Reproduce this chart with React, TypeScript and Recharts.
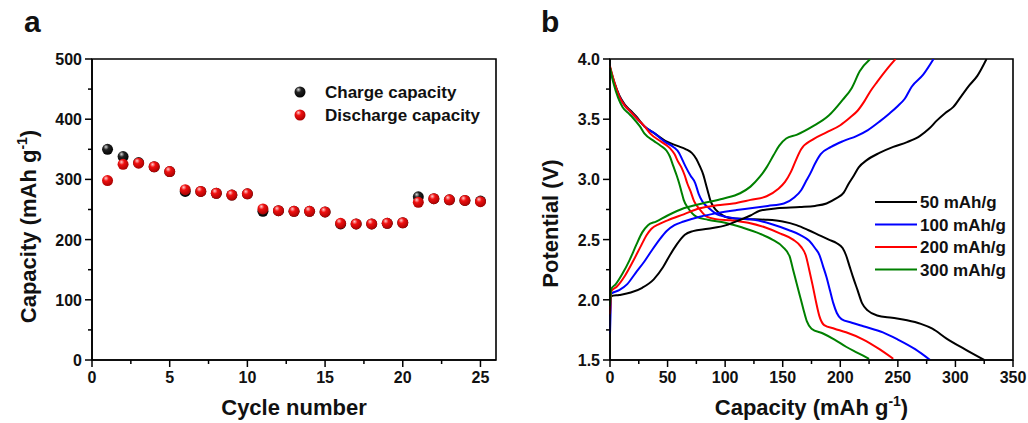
import React from 'react';
import {
  ScatterChart,
  Scatter,
  LineChart,
  Line,
  XAxis,
  YAxis,
  ReferenceArea,
  Legend,
} from 'recharts';

const FONT = '"Liberation Sans", Arial, Helvetica, sans-serif';

// ---- panel a: rate capability ----
const cycles = [1, 2, 3, 4, 5, 6, 7, 8, 9, 10, 11, 12, 13, 14, 15, 16, 17, 18, 19, 20, 21, 22, 23, 24, 25];
const chargeCapacity = [350, 338, 328, 321, 313, 280, 280, 277, 274, 276, 247, 248, 247, 247, 246, 226, 226, 226, 227, 228, 271, 268, 266, 265, 264];
const dischargeCapacity = [298, 325, 327, 321, 313, 283, 280, 277, 274, 276, 251, 248, 247, 247, 246, 227, 226, 226, 227, 228, 262, 268, 266, 265, 263];
const cycleTicks = [0, 2.5, 5, 7.5, 10, 12.5, 15, 17.5, 20, 22.5, 25];
const capTicks = [0, 50, 100, 150, 200, 250, 300, 350, 400, 450, 500];

// ---- panel b: charge / discharge profiles, [capacity, potential] ----
const rates = ['50 mAh/g', '100 mAh/g', '200 mAh/g', '300 mAh/g'];
const rateColors = ['#000000', '#0000ff', '#ff0000', '#008000'];

const charge50: [number, number][] = [
  [0, 1.99], [1, 2.03], [8, 2.04], [18, 2.06], [28, 2.1], [38, 2.17], [46, 2.27], [52, 2.37], [58, 2.46],
  [65, 2.54], [72, 2.57], [85, 2.59], [101, 2.62], [112, 2.66], [122, 2.7], [130, 2.74], [145, 2.76],
  [165, 2.77], [178, 2.78], [188, 2.8], [196, 2.84], [203, 2.89], [207, 2.96], [211, 3.02], [216, 3.1],
  [223, 3.16], [234, 3.22], [246, 3.27], [258, 3.31], [269, 3.36], [277, 3.42], [284, 3.49], [291, 3.55],
  [298, 3.6], [305, 3.69], [312, 3.78], [319, 3.86], [327, 4.0],
];
const charge100: [number, number][] = [
  [0, 1.72], [0.5, 1.9], [1, 2.05], [8, 2.08], [15, 2.13], [22, 2.22], [30, 2.32], [37, 2.42], [43, 2.5],
  [49, 2.57], [56, 2.62], [64, 2.65], [78, 2.69], [93, 2.72], [110, 2.745], [122, 2.76], [137, 2.78],
  [151, 2.8], [160, 2.85], [166, 2.91], [170, 2.98], [174, 3.05], [178, 3.13], [183, 3.21], [192, 3.27],
  [203, 3.32], [214, 3.36], [224, 3.41], [234, 3.48], [243, 3.55], [250, 3.61], [256, 3.67], [262, 3.77],
  [272, 3.87], [281, 4.0],
];
const charge200: [number, number][] = [
  [0, 1.88], [0.5, 1.98], [1, 2.07], [6, 2.11], [13, 2.2], [20, 2.32], [27, 2.45], [32, 2.54], [36, 2.59],
  [43, 2.63], [50, 2.66], [64, 2.71], [78, 2.76], [93, 2.785], [107, 2.8], [122, 2.83], [136, 2.86],
  [146, 2.92], [152, 2.98], [157, 3.06], [161, 3.15], [166, 3.25], [176, 3.33], [188, 3.39], [200, 3.45],
  [208, 3.51], [215, 3.57], [221, 3.65], [226, 3.73], [232, 3.81], [240, 3.91], [248, 4.0],
];
const charge300: [number, number][] = [
  [0, 1.95], [0.5, 2.03], [1, 2.09], [5, 2.13], [11, 2.22], [17, 2.33], [23, 2.46], [28, 2.56], [33, 2.62],
  [40, 2.65], [50, 2.7], [64, 2.76], [80, 2.8], [98, 2.84], [113, 2.885], [122, 2.94], [130, 3.02],
  [136, 3.1], [142, 3.2], [147, 3.28], [153, 3.34], [162, 3.37], [176, 3.44], [190, 3.53], [202, 3.66],
  [210, 3.76], [217, 3.9], [226, 4.0],
];
const discharge50: [number, number][] = [
  [0, 3.93], [4, 3.8], [8, 3.7], [13, 3.62], [18, 3.57], [23, 3.52], [30, 3.44], [39, 3.38], [48, 3.32],
  [58, 3.28], [66, 3.25], [71, 3.22], [75, 3.17], [78, 3.11], [81, 3.04], [83, 2.97], [85, 2.9], [87, 2.83],
  [90, 2.77], [95, 2.72], [100, 2.69], [108, 2.675], [120, 2.67], [135, 2.665], [150, 2.65], [162, 2.62],
  [172, 2.58], [181, 2.54], [190, 2.5], [197, 2.47], [202, 2.43], [205, 2.37], [208, 2.28], [211, 2.19],
  [215, 2.08], [219, 1.97], [224, 1.91], [232, 1.87], [245, 1.85], [258, 1.83], [270, 1.8], [280, 1.76],
  [292, 1.68], [308, 1.59], [325, 1.5],
];
const discharge100: [number, number][] = [
  [0, 3.92], [4, 3.79], [8, 3.69], [13, 3.61], [18, 3.56], [23, 3.51], [30, 3.44], [39, 3.38], [48, 3.31],
  [55, 3.27], [60, 3.22], [63, 3.16], [66, 3.1], [70, 3.03], [74, 2.97], [77, 2.88], [80, 2.82], [86, 2.76],
  [93, 2.71], [100, 2.69], [110, 2.675], [125, 2.665], [140, 2.63], [155, 2.58], [165, 2.54], [173, 2.49],
  [178, 2.43], [182, 2.37], [185, 2.28], [188, 2.19], [191, 2.08], [194, 1.97], [197, 1.89], [201, 1.84],
  [210, 1.81], [220, 1.78], [237, 1.73], [250, 1.67], [265, 1.59], [278, 1.5],
];
const discharge200: [number, number][] = [
  [0, 3.94], [4, 3.8], [8, 3.69], [13, 3.61], [18, 3.56], [23, 3.51], [30, 3.44], [35, 3.38], [45, 3.31],
  [52, 3.26], [56, 3.21], [59, 3.15], [62, 3.1], [65, 3.03], [67, 2.97], [70, 2.9], [73, 2.82], [78, 2.75],
  [84, 2.69], [92, 2.67], [105, 2.66], [120, 2.64], [135, 2.6], [148, 2.55], [159, 2.5], [166, 2.44],
  [170, 2.37], [173, 2.25], [176, 2.12], [179, 1.98], [182, 1.86], [186, 1.79], [195, 1.76], [205, 1.73],
  [220, 1.67], [234, 1.59], [246, 1.51],
];
const discharge300: [number, number][] = [
  [0, 3.93], [3, 3.8], [7, 3.68], [11, 3.6], [16, 3.55], [20, 3.51], [26, 3.44], [30, 3.38], [38, 3.32],
  [44, 3.28], [49, 3.24], [52, 3.19], [55, 3.11], [58, 3.03], [60, 2.97], [62, 2.9], [64, 2.83], [68, 2.76],
  [75, 2.69], [85, 2.665], [100, 2.64], [115, 2.6], [130, 2.55], [141, 2.5], [150, 2.44], [156, 2.36],
  [159, 2.25], [162, 2.14], [165, 2.03], [168, 1.92], [171, 1.82], [175, 1.76], [185, 1.72], [195, 1.67],
  [205, 1.61], [215, 1.56], [225, 1.51],
];
const chargeCurves = [charge50, charge100, charge200, charge300];
const dischargeCurves = [discharge50, discharge100, discharge200, discharge300];
const specCapTicks = [0, 25, 50, 75, 100, 125, 150, 175, 200, 225, 250, 275, 300, 325, 350];
const potentialTicks = [1.5, 1.75, 2.0, 2.25, 2.5, 2.75, 3.0, 3.25, 3.5, 3.75, 4.0];

const toPoints = (pairs: [number, number][]) => pairs.map(([cap, v]) => ({ cap, v }));

const isMajor = (value: number, step: number) =>
  Math.abs(value / step - Math.round(value / step)) < 1e-6;

const tickText = { fontFamily: FONT, fontWeight: 'bold', fontSize: 16, fill: '#111' } as const;

const bottomTick = (step: number, fmt: (v: number) => string) => (props: any) => {
  const { x, y, payload } = props;
  const major = isMajor(payload.value, step);
  return (
    <g>
      <line x1={x} x2={x} y1={y} y2={y + (major ? 7 : 4)} stroke="#000" strokeWidth={1.5} />
      {major && (
        <text x={x} y={y + 23} textAnchor="middle" {...tickText}>
          {fmt(payload.value)}
        </text>
      )}
    </g>
  );
};

const leftTick = (step: number, fmt: (v: number) => string) => (props: any) => {
  const { x, y, payload } = props;
  const major = isMajor(payload.value, step);
  return (
    <g>
      <line x1={x - (major ? 7 : 4)} x2={x} y1={y} y2={y} stroke="#000" strokeWidth={1.5} />
      {major && (
        <text x={x - 10} y={y + 6} textAnchor="end" {...tickText}>
          {fmt(payload.value)}
        </text>
      )}
    </g>
  );
};

const titleText = { fontFamily: FONT, fontWeight: 'bold', fontSize: 22, fill: '#111' } as const;
const legendText = { fontFamily: FONT, fontWeight: 'bold', fontSize: 17, fill: '#111' } as const;

const capacityTitle = (
  <>
    Capacity (mAh g
    <tspan dy={-9} fontSize={14}>-1</tspan>
    <tspan dy={9}>)</tspan>
  </>
);

const xTitle = (content: React.ReactNode) => (props: any) => {
  const vb = props.viewBox || { x: 0, y: 0, width: 0, height: 0 };
  return (
    <text x={vb.x + vb.width / 2} y={vb.y + 55} textAnchor="middle" {...titleText}>
      {content}
    </text>
  );
};

const yTitle = (content: React.ReactNode, baseX: number, shift: number) => (props: any) => {
  const vb = props.viewBox || { x: 0, y: 0, width: 0, height: 0 };
  const cx = vb.x + baseX;
  const cy = vb.y + vb.height / 2 + shift;
  return (
    <text x={cx} y={cy} transform={`rotate(-90, ${cx}, ${cy})`} textAnchor="middle" {...titleText}>
      {content}
    </text>
  );
};

const Ball = (props: any) => <circle cx={props.cx} cy={props.cy} r={5.5} fill={props.fillUrl} />;

const ballSeries = [
  { name: 'Charge capacity', values: chargeCapacity, fill: 'url(#ballBlack)' },
  { name: 'Discharge capacity', values: dischargeCapacity, fill: 'url(#ballRed)' },
];

function CycleLegend() {
  return (
    <svg width={210} height={50} style={{ display: 'block' }}>
      {ballSeries.map((s, i) => (
        <g key={s.name}>
          <circle cx={6} cy={12 + i * 23} r={5.5} fill={s.fill} />
          <text x={31} y={12 + i * 23 + 6} {...legendText}>{s.name}</text>
        </g>
      ))}
    </svg>
  );
}

function RateLegend() {
  return (
    <svg width={160} height={95} style={{ display: 'block' }}>
      {rates.map((r, i) => (
        <g key={r}>
          <line x1={0} x2={42} y1={11 + i * 22.5} y2={11 + i * 22.5} stroke={rateColors[i]} strokeWidth={2} />
          <text x={45} y={11 + i * 22.5 + 6} {...legendText}>{r}</text>
        </g>
      ))}
    </svg>
  );
}

export default function App() {
  return (
    <div style={{ position: 'absolute', left: 0, top: 0, width: 1028, height: 423, background: '#fff' }}>
      <svg width={1028} height={423} style={{ position: 'absolute', left: 0, top: 0 }}>
        <text x={24} y={32} fontFamily={FONT} fontWeight="bold" fontSize={30} fill="#111">a</text>
        <text x={541} y={32} fontFamily={FONT} fontWeight="bold" fontSize={30} fill="#111">b</text>
      </svg>

      <div style={{ position: 'absolute', left: 0, top: 0 }}>
        <ScatterChart width={520} height={423} margin={{ top: 59, right: 24, bottom: 0, left: 0 }}>
          <defs>
            <radialGradient id="ballRed" cx="0.4" cy="0.35" r="0.7" fx="0.35" fy="0.28">
              <stop offset="0%" stopColor="#ffd0d0" />
              <stop offset="35%" stopColor="#f01010" />
              <stop offset="100%" stopColor="#a00000" />
            </radialGradient>
            <radialGradient id="ballBlack" cx="0.4" cy="0.35" r="0.7" fx="0.35" fy="0.28">
              <stop offset="0%" stopColor="#d8d8d8" />
              <stop offset="35%" stopColor="#222" />
              <stop offset="100%" stopColor="#000" />
            </radialGradient>
          </defs>
          <XAxis
            type="number"
            dataKey="cycle"
            domain={[0, 26]}
            ticks={cycleTicks}
            interval={0}
            height={63}
            tickSize={0}
            tickMargin={0}
            tickLine={false}
            axisLine={{ stroke: '#000', strokeWidth: 1.6 }}
            tick={bottomTick(5, (v) => String(v))}
            label={{ content: xTitle('Cycle number') }}
          />
          <YAxis
            type="number"
            dataKey="cap"
            domain={[0, 500]}
            ticks={capTicks}
            interval={0}
            width={92}
            tickSize={0}
            tickMargin={0}
            tickLine={false}
            axisLine={{ stroke: '#000', strokeWidth: 1.6 }}
            tick={leftTick(100, (v) => String(v))}
            label={{ content: yTitle(capacityTitle, 36, 17) }}
          />
          <ReferenceArea x1={0} x2={26} y1={0} y2={500} fill="none" stroke="#000" strokeWidth={1.6} />
          {ballSeries.map((s) => (
            <Scatter
              key={s.name}
              name={s.name}
              data={cycles.map((c, i) => ({ cycle: c, cap: s.values[i] }))}
              shape={(p: any) => <Ball {...p} fillUrl={s.fill} />}
              isAnimationActive={false}
            />
          ))}
          <Legend
            verticalAlign="middle"
            align="center"
            content={() => <CycleLegend />}
            wrapperStyle={{ left: 294, top: 80, width: 210 }}
          />
        </ScatterChart>
      </div>

      <div style={{ position: 'absolute', left: 520, top: 0 }}>
        <LineChart width={508} height={423} margin={{ top: 59, right: 15, bottom: 0, left: 0 }}>
          <XAxis
            type="number"
            dataKey="cap"
            domain={[0, 350]}
            ticks={specCapTicks}
            interval={0}
            height={63}
            tickSize={0}
            tickMargin={0}
            tickLine={false}
            axisLine={{ stroke: '#000', strokeWidth: 1.6 }}
            tick={bottomTick(50, (v) => String(v))}
            label={{ content: xTitle(capacityTitle) }}
          />
          <YAxis
            type="number"
            dataKey="v"
            domain={[1.5, 4]}
            ticks={potentialTicks}
            interval={0}
            width={90}
            tickSize={0}
            tickMargin={0}
            tickLine={false}
            allowDataOverflow
            axisLine={{ stroke: '#000', strokeWidth: 1.6 }}
            tick={leftTick(0.5, (v) => v.toFixed(1))}
            label={{ content: yTitle('Potential (V)', 38, 14) }}
          />
          <ReferenceArea x1={0} x2={350} y1={1.5} y2={4} fill="none" stroke="#000" strokeWidth={1.6} />
          {rates.map((r, i) => (
            <Line
              key={`d-${r}`}
              data={toPoints(dischargeCurves[i])}
              dataKey="v"
              type="monotone"
              stroke={rateColors[i]}
              strokeWidth={2}
              dot={false}
              isAnimationActive={false}
            />
          ))}
          {rates.map((r, i) => (
            <Line
              key={`c-${r}`}
              name={r}
              data={toPoints(chargeCurves[i])}
              dataKey="v"
              type="monotone"
              stroke={rateColors[i]}
              strokeWidth={2}
              dot={false}
              isAnimationActive={false}
            />
          ))}
          <Legend
            verticalAlign="middle"
            align="center"
            content={() => <RateLegend />}
            wrapperStyle={{ left: 355, top: 191, width: 160 }}
          />
        </LineChart>
      </div>
    </div>
  );
}
